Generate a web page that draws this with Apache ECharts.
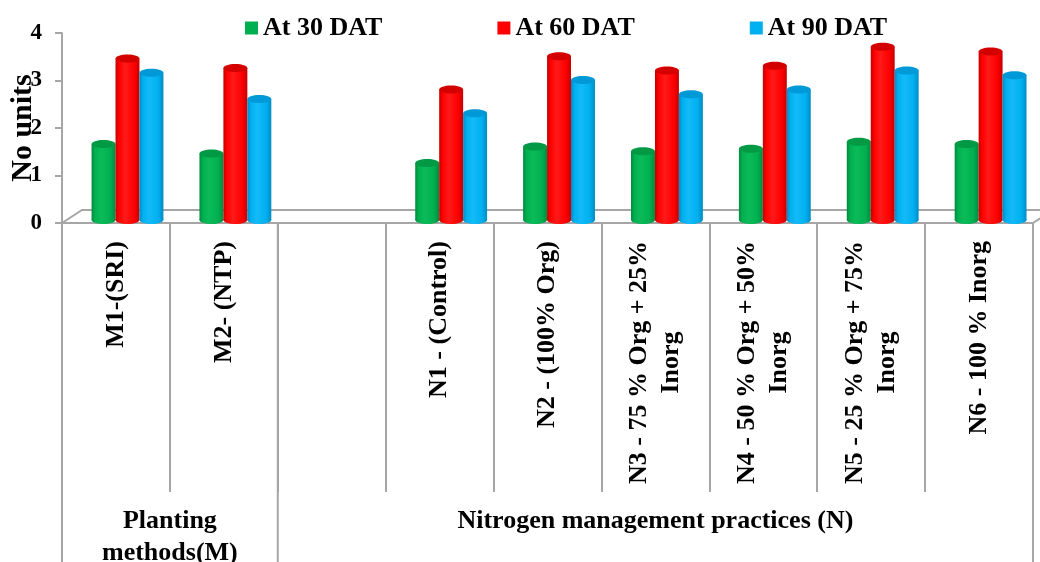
<!DOCTYPE html>
<html><head><meta charset="utf-8">
<script src="https://cdn.jsdelivr.net/npm/echarts@6/dist/echarts.min.js"></script>
<style>html,body{margin:0;padding:0;background:#fff}#c{width:1040px;height:562px}</style>
</head><body><div id="c"></div>
<script>
// ---- data ----
const categories = ['M1-(SRI)', 'M2- (NTP)', '', 'N1 - (Control)', 'N2 - (100% Org)',
  'N3 - 75 % Org + 25%\nInorg', 'N4 - 50 % Org + 50%\nInorg', 'N5 - 25 % Org + 75%\nInorg', 'N6 - 100 % Inorg'];
const seriesNames = ['At 30 DAT', 'At 60 DAT', 'At 90 DAT'];
const dat30 = [1.6, 1.4, null, 1.2, 1.55, 1.45, 1.5, 1.65, 1.6];
const dat60 = [3.4, 3.2, null, 2.75, 3.45, 3.15, 3.25, 3.65, 3.55];
const dat90 = [3.1, 2.55, null, 2.25, 2.95, 2.65, 2.75, 3.15, 3.05];
const yTicks = [0, 1, 2, 3, 4];
const yTitle = 'No units';
const groupLabels = ['Planting\nmethods(M)', 'Nitrogen management practices (N)'];
const groupStarts = [0, 2];   // first category index of each group
const groupEnds = [1, 8];     // last category index of each group

// ---- styles ----
const FONT = '"Liberation Serif", "Times New Roman", serif';
const GRAY = '#a6a6a6';
const palette = [
  { base: '#00b050', edge: '#008a3e', light: '#0cba58', top: '#009a45' },
  { base: '#ff0000', edge: '#c40000', light: '#ff1a1a', top: '#d40000' },
  { base: '#00b0f0', edge: '#008cc4', light: '#14baf8', top: '#0099d8' }
];

function cylGrad(p) {
  return new echarts.graphic.LinearGradient(0, 0, 1, 0, [
    { offset: 0, color: p.edge },
    { offset: 0.15, color: p.base },
    { offset: 0.4, color: p.light },
    { offset: 0.78, color: p.base },
    { offset: 1, color: p.edge }
  ]);
}

function makeSeries(idx, data) {
  const p = palette[idx];
  return {
    type: 'custom',
    name: seriesNames[idx],
    itemStyle: { color: p.base },
    data: data.map((v, i) => [i, v]),
    encode: { x: 0, y: 1 },
    z: 3,
    renderItem(params, api) {
      const v = api.value(1);
      if (v === null || v === undefined || isNaN(v)) return;
      const c = api.coord([api.value(0), v]);
      const b = api.coord([api.value(0), 0]);
      const band = api.size([1, 0])[0];
      const w = band * 0.222;
      const cx = c[0] + band * 0.107 + (idx - 1) * w;
      const lift = 3;
      const top = c[1] - lift;
      const bot = b[1] - lift;
      const ry = 4;
      const g = cylGrad(p);
      return {
        type: 'group',
        children: [
          { type: 'ellipse', shape: { cx: cx, cy: bot, rx: w / 2, ry: ry }, style: { fill: g } },
          { type: 'rect', shape: { x: cx - w / 2, y: top, width: w, height: bot - top }, style: { fill: g } },
          { type: 'ellipse', shape: { cx: cx, cy: top, rx: w / 2, ry: ry }, style: { fill: p.top } }
        ]
      };
    }
  };
}

const chart = echarts.init(document.getElementById('c'), null, { renderer: 'canvas' });

const labelRich = {
  a: { fontFamily: FONT, fontWeight: 'bold', fontSize: 26, color: '#000', lineHeight: 32 },
  b: { fontFamily: FONT, fontWeight: 'bold', fontSize: 26, color: '#000', lineHeight: 32, align: 'center' }
};

const option = {
  animation: false,
  backgroundColor: '#ffffff',
  textStyle: { fontFamily: FONT },
  legend: {
    data: seriesNames,
    left: 245, top: 15, padding: 0,
    icon: 'rect', itemWidth: 13, itemHeight: 13, itemGap: 115,
    textStyle: { fontFamily: FONT, fontWeight: 'bold', fontSize: 26, color: '#000' }
  },
  grid: { left: 62, right: 7, top: 33, bottom: 339, outerBoundsMode: 'none', containLabel: false },
  xAxis: {
    type: 'category',
    data: categories,
    axisLine: { lineStyle: { color: GRAY, width: 2 } },
    axisTick: { show: true, interval: 0, length: 269, lineStyle: { color: GRAY, width: 2 } },
    axisLabel: {
      interval: 0, rotate: 90, margin: 18,
      fontFamily: FONT, fontWeight: 'bold', fontSize: 26, color: '#000', lineHeight: 32,
      formatter: function (val) {
        const parts = val.split('\n');
        if (parts.length > 1) return '{a|' + parts[0] + '}\n{b|' + parts[1] + '}';
        return '{a|' + val + '}';
      },
      rich: labelRich
    },
    splitLine: { show: false }
  },
  yAxis: {
    type: 'value',
    min: yTicks[0], max: yTicks[yTicks.length - 1], interval: 1,
    name: yTitle, nameLocation: 'middle', nameGap: 24, nameRotate: 90, nameMoveOverlap: false,
    nameTextStyle: { fontFamily: FONT, fontWeight: 'bold', fontSize: 30, color: '#000' },
    axisLine: { show: true, lineStyle: { color: GRAY, width: 2 } },
    axisTick: { show: true, length: 7, lineStyle: { color: GRAY, width: 2 } },
    axisLabel: { margin: 20, fontFamily: FONT, fontWeight: 'bold', fontSize: 23, color: '#000' },
    splitLine: { show: false }
  },
  series: [makeSeries(0, dat30), makeSeries(1, dat60), makeSeries(2, dat90)]
};
chart.setOption(option);

// ---- decorations derived from the axis scale ----
const c0 = chart.convertToPixel({ xAxisIndex: 0 }, 0);
const c1 = chart.convertToPixel({ xAxisIndex: 0 }, 1);
const band = c1 - c0;
const y0 = chart.convertToPixel({ yAxisIndex: 0 }, 0);
const H = 562;
const bound = i => c0 - band / 2 + i * band;
const graphics = [];
// floor
graphics.push({ type: 'polyline', z: 1, shape: { points: [[bound(0), y0], [bound(0) + 20, y0 - 13], [bound(categories.length) + 20, y0 - 13]] }, style: { stroke: GRAY, lineWidth: 2, fill: null } });
graphics.push({ type: 'line', z: 1, shape: { x1: bound(categories.length), y1: y0, x2: bound(categories.length) + 20, y2: y0 - 13 }, style: { stroke: GRAY, lineWidth: 2 } });
// group borders
const fullLines = [bound(0), bound(groupStarts[1]), bound(categories.length)];
fullLines.forEach(x => graphics.push({ type: 'line', z: 1, shape: { x1: x, y1: y0, x2: x, y2: H }, style: { stroke: GRAY, lineWidth: 2 } }));
// group labels
groupLabels.forEach((t, gi) => {
  const xc = (bound(groupStarts[gi]) + bound(groupEnds[gi] + 1)) / 2;
  graphics.push({ type: 'text', z: 5, x: xc, y: 505, style: { text: t, fontFamily: FONT, fontWeight: 'bold', fontSize: 26, lineHeight: 32, fill: '#000', align: 'center', verticalAlign: 'top' } });
});
chart.setOption({ graphic: graphics });
</script>
</body></html>
